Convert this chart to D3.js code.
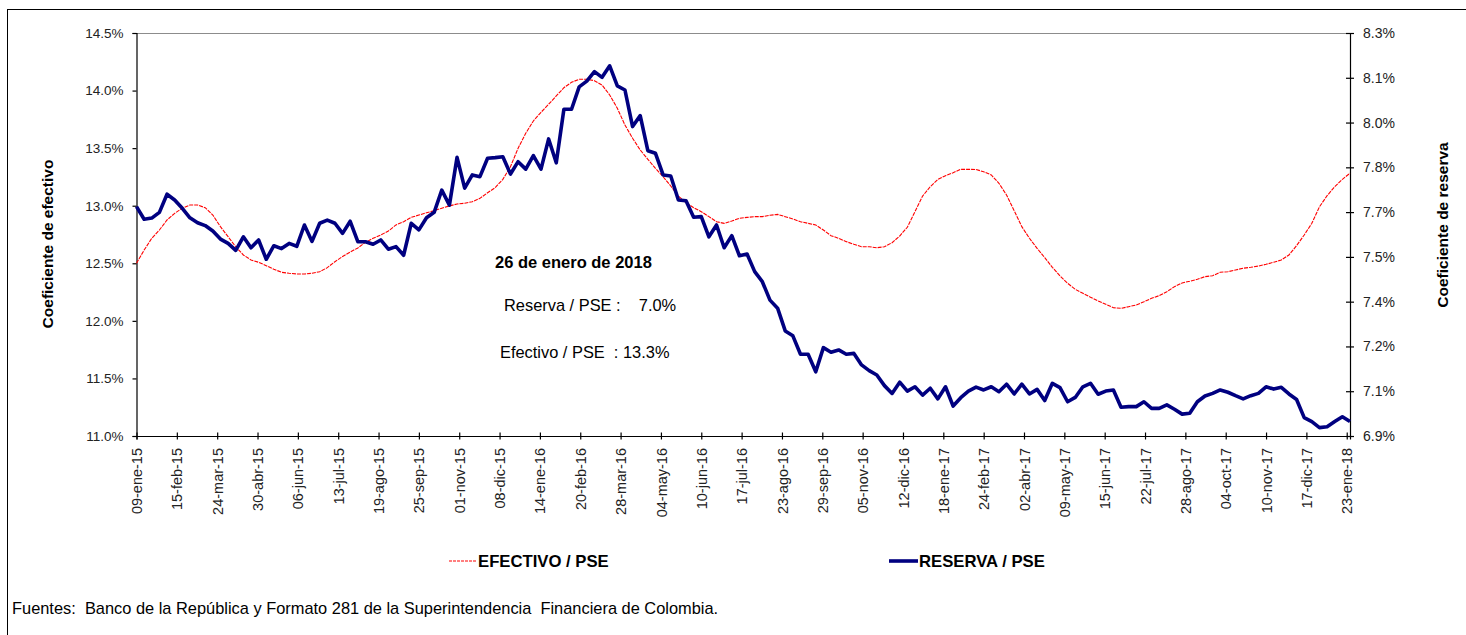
<!DOCTYPE html>
<html>
<head>
<meta charset="utf-8">
<script src="https://cdn.jsdelivr.net/npm/d3@7"></script>
<style>
  html, body { margin: 0; padding: 0; background: #fff; }
  svg { display: block; font-family: "Liberation Sans", Arial, sans-serif; }
</style>
</head>
<body>
<svg id="chart" width="1466" height="635"></svg>
<script>
// ---------------- DATA ----------------
const startDate = "2015-01-09";   // first weekly observation (Friday)
const weekCount = 160;            // weekly observations up to 26-ene-2018

const efectivo = [
  12.500,12.615,12.717,12.789,12.876,12.934,12.978,13.006,13.006,12.983,
  12.919,12.818,12.731,12.644,12.572,12.529,12.509,12.479,12.448,12.422,
  12.413,12.407,12.407,12.413,12.427,12.462,12.514,12.559,12.598,12.633,
  12.682,12.717,12.746,12.780,12.833,12.861,12.899,12.919,12.939,12.957,
  12.978,12.998,13.015,13.021,13.035,13.064,13.113,13.157,13.229,13.339,
  13.499,13.629,13.736,13.811,13.881,13.953,14.025,14.072,14.098,14.098,
  14.086,14.048,13.962,13.846,13.701,13.586,13.484,13.403,13.325,13.252,
  13.171,13.084,13.026,12.983,12.948,12.905,12.861,12.847,12.867,12.891,
  12.899,12.905,12.905,12.917,12.925,12.905,12.885,12.861,12.847,12.833,
  12.789,12.740,12.717,12.688,12.665,12.644,12.644,12.635,12.644,12.679,
  12.737,12.813,12.948,13.084,13.165,13.229,13.261,13.287,13.316,13.316,
  13.315,13.295,13.267,13.195,13.093,12.957,12.818,12.717,12.630,12.549,
  12.465,12.390,12.326,12.274,12.239,12.205,12.173,12.144,12.114,12.109,
  12.123,12.138,12.166,12.196,12.219,12.253,12.297,12.329,12.344,12.361,
  12.384,12.392,12.422,12.427,12.442,12.457,12.465,12.476,12.491,12.509,
  12.529,12.572,12.653,12.746,12.847,12.991,13.087,13.165,13.229,13.282
];

const reserva = [
  7.697,7.653,7.657,7.677,7.740,7.720,7.691,7.658,7.641,7.631,
  7.612,7.584,7.569,7.545,7.592,7.554,7.581,7.514,7.561,7.551,
  7.569,7.559,7.633,7.576,7.639,7.650,7.639,7.604,7.646,7.575,
  7.575,7.566,7.581,7.549,7.558,7.528,7.639,7.616,7.658,7.677,
  7.754,7.702,7.868,7.761,7.807,7.801,7.865,7.867,7.870,7.810,
  7.853,7.827,7.874,7.827,7.932,7.849,8.035,8.035,8.113,8.133,
  8.166,8.146,8.186,8.116,8.102,7.975,8.013,7.891,7.882,7.807,
  7.803,7.720,7.717,7.660,7.662,7.592,7.633,7.554,7.596,7.526,
  7.532,7.471,7.436,7.372,7.344,7.265,7.248,7.184,7.184,7.123,
  7.207,7.191,7.199,7.184,7.187,7.147,7.127,7.112,7.075,7.048,
  7.087,7.056,7.071,7.042,7.066,7.029,7.071,7.004,7.033,7.056,
  7.070,7.060,7.071,7.054,7.080,7.046,7.080,7.046,7.062,7.023,
  7.083,7.068,7.019,7.034,7.071,7.083,7.045,7.056,7.060,7.000,
  7.002,7.002,7.019,6.996,6.996,7.008,6.993,6.976,6.979,7.019,
  7.039,7.048,7.060,7.052,7.040,7.029,7.040,7.048,7.071,7.063,
  7.069,7.046,7.027,6.964,6.950,6.929,6.932,6.950,6.967,6.950
];

const xTickLabels = [
  "09-ene-15","15-feb-15","24-mar-15","30-abr-15","06-jun-15","13-jul-15",
  "19-ago-15","25-sep-15","01-nov-15","08-dic-15","14-ene-16","20-feb-16",
  "28-mar-16","04-may-16","10-jun-16","17-jul-16","23-ago-16","29-sep-16",
  "05-nov-16","12-dic-16","18-ene-17","24-feb-17","02-abr-17","09-may-17",
  "15-jun-17","22-jul-17","28-ago-17","04-oct-17","10-nov-17","17-dic-17",
  "23-ene-18"
];
const leftTicks = [11.0, 11.5, 12.0, 12.5, 13.0, 13.5, 14.0, 14.5];
const rightDomain = [6.9, 8.3];
const rightTickCount = 10;

const seriesNames = ["EFECTIVO / PSE", "RESERVA / PSE"];
const leftTitle = "Coeficiente de efectivo";
const rightTitle = "Coeficiente de reserva";
const noteDate = "26 de enero de 2018";
const noteReserva = "Reserva / PSE :    7.0%";
const noteEfectivo = "Efectivo / PSE  : 13.3%";
const sourceText = "Fuentes:  Banco de la República y Formato 281 de la Superintendencia  Financiera de Colombia.";

// ---------------- HELPERS ----------------
const monthIdx = {ene:0,feb:1,mar:2,abr:3,may:4,jun:5,jul:6,ago:7,sep:8,oct:9,nov:10,dic:11};
function parseEs(s) {
  const [d, m, y] = s.split("-");
  return new Date(2000 + (+y), monthIdx[m], +d);
}
const start = d3.timeParse("%Y-%m-%d")(startDate);
const dates = d3.range(weekCount).map(i => d3.timeDay.offset(start, 7 * i));
const dataE = dates.map((d, i) => ({date: d, v: efectivo[i]}));
const dataR = dates.map((d, i) => ({date: d, v: reserva[i]}));

// ---------------- LAYOUT ----------------
const L = 136.5, R = 1350, T = 33, B = 436;
const svg = d3.select("#chart");

// outer frame
svg.append("rect").attr("x", 7.5).attr("y", 9.5).attr("width", 1480).attr("height", 700)
  .attr("fill", "none").attr("stroke", "#000").attr("stroke-width", 1);

const x = d3.scaleTime().domain([start, dates[dates.length - 1]]).range([L, R]);
const yL = d3.scaleLinear().domain([leftTicks[0], leftTicks[leftTicks.length - 1]]).range([B, T]);
const yR = d3.scaleLinear().domain(rightDomain).range([B, T]);
const rightTicks = d3.range(rightTickCount).map(i => rightDomain[0] + i * (rightDomain[1] - rightDomain[0]) / (rightTickCount - 1));

// top border of plot (gray)
svg.append("line").attr("x1", L).attr("x2", R).attr("y1", T + 0.5).attr("y2", T + 0.5)
  .attr("stroke", "#8c8c8c").attr("stroke-width", 1);

// left axis
const gL = svg.append("g").attr("transform", `translate(${L},0)`)
  .call(d3.axisLeft(yL).tickValues(leftTicks).tickSize(4).tickPadding(9)
    .tickFormat(d => d.toFixed(1) + "%"));
gL.selectAll("text").attr("font-size", "13.5px").attr("fill", "#222").attr("font-family", "Liberation Sans, Arial, sans-serif");

// right axis
const gR = svg.append("g").attr("transform", `translate(${R},0)`)
  .call(d3.axisRight(yR).tickValues(rightTicks).tickSize(4).tickPadding(9)
    .tickFormat(d => d.toFixed(1) + "%"));
gR.selectAll(".tick line").attr("x1", -4);
gR.selectAll("text").attr("font-size", "14px").attr("fill", "#222").attr("font-family", "Liberation Sans, Arial, sans-serif");

// bottom axis
const gB = svg.append("g").attr("transform", `translate(0,${B})`)
  .call(d3.axisBottom(x).tickValues(xTickLabels.map(parseEs)).tickSize(3.5)
    .tickFormat((d, i) => xTickLabels[i]));
gB.selectAll(".tick line").attr("y1", -3.5);
gB.selectAll("text")
  .attr("font-size", "14.5px").attr("fill", "#222").attr("font-family", "Liberation Sans, Arial, sans-serif")
  .attr("text-anchor", "end")
  .attr("transform", "translate(0,12) rotate(-90)")
  .attr("x", 0).attr("y", 0).attr("dy", "0.35em");

svg.selectAll(".domain").attr("stroke", "#000").attr("stroke-width", 1.2);
svg.selectAll(".tick line").attr("stroke", "#000").attr("stroke-width", 1.2);

// lines
const lineE = d3.line().x(d => x(d.date)).y(d => yL(d.v));
const lineR = d3.line().x(d => x(d.date)).y(d => yR(d.v));

svg.append("path").datum(dataE).attr("d", lineE)
  .attr("fill", "none").attr("stroke", "#ff0000").attr("stroke-width", 1.1)
  .attr("stroke-dasharray", "4,1");
svg.append("path").datum(dataR).attr("d", lineR)
  .attr("fill", "none").attr("stroke", "#000080").attr("stroke-width", 3.6)
  .attr("stroke-linejoin", "round").attr("stroke-linecap", "butt");

// axis titles
svg.append("text").attr("transform", "translate(53,244) rotate(-90)")
  .attr("text-anchor", "middle").attr("font-weight", "bold").attr("font-size", "15.5px")
  .text(leftTitle);
svg.append("text").attr("transform", "translate(1448,225) rotate(-90)")
  .attr("text-anchor", "middle").attr("font-weight", "bold").attr("font-size", "15.5px")
  .text(rightTitle);

// annotation
svg.append("text").attr("x", 495).attr("y", 268).attr("font-weight", "bold")
  .attr("font-size", "16.5px").text(noteDate);
svg.append("text").attr("x", 504).attr("y", 311).attr("font-size", "16.4px")
  .style("white-space", "pre").text(noteReserva);
svg.append("text").attr("x", 500).attr("y", 358).attr("font-size", "16.4px")
  .style("white-space", "pre").text(noteEfectivo);

// legend
const legend = [
  {name: seriesNames[0], color: "#ff0000", w: 1.1, dash: "3,1", x0: 449, x1: 477},
  {name: seriesNames[1], color: "#000080", w: 3.6, dash: null, x0: 889, x1: 918}
];
legend.forEach(l => {
  svg.append("line").attr("x1", l.x0).attr("x2", l.x1).attr("y1", 561).attr("y2", 561)
    .attr("stroke", l.color).attr("stroke-width", l.w).attr("stroke-dasharray", l.dash);
  svg.append("text").attr("x", l.x1 + 1).attr("y", 567).attr("font-weight", "bold")
    .attr("font-size", "16.7px").style("white-space", "pre").text(l.name);
});

// source
svg.append("text").attr("x", 12).attr("y", 614).attr("font-size", "16.4px")
  .style("white-space", "pre").text(sourceText);
</script>
</body>
</html>
